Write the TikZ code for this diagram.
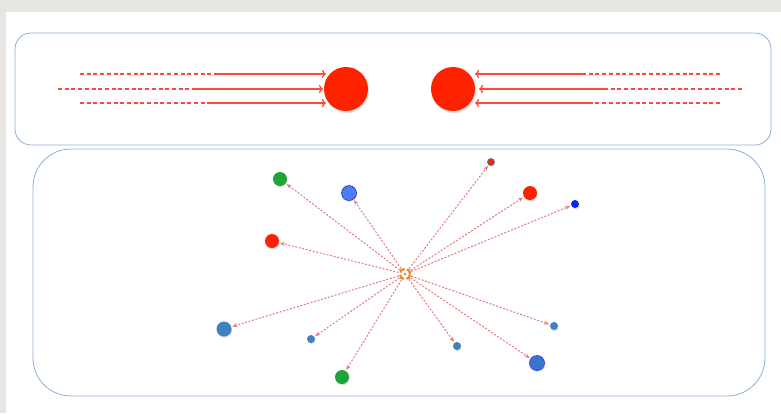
\documentclass[tikz,border=0pt]{standalone}
\usetikzlibrary{arrows.meta,shadows}
\definecolor{bgrey}{HTML}{E8E6E2}
\definecolor{boxline}{HTML}{8DB0D9}
\definecolor{fred}{HTML}{FF2200}
\definecolor{lred}{HTML}{FF4A3A}
\definecolor{lnk}{HTML}{DE7E7E}
\definecolor{fgreen}{HTML}{22A33A}
\definecolor{fblue}{HTML}{4C7EF2}
\definecolor{dblue}{HTML}{0A24F0}
\definecolor{sblue}{HTML}{3F82C4}
\definecolor{hub}{HTML}{F28A1E}
\tikzset{
  panel/.style={draw=boxline, line width=0.8pt, fill=white},
  bigball/.style={circle, fill=fred, minimum size=44pt, inner sep=0pt, drop shadow={shadow xshift=1pt, shadow yshift=-2pt, opacity=0.25}},
  ball/.style={circle, inner sep=0pt, minimum size=#1, drop shadow={shadow xshift=0.6pt, shadow yshift=-1.2pt, opacity=0.25}},
  inflow/.style={draw=lred, line width=1.3pt},
  inflowd/.style={draw=lred, line width=1.3pt, dash pattern=on 4pt off 2.7pt},
  intip/.style={-{To[length=4pt,width=8pt,line width=1.3pt]}},
  link/.style={draw=lnk, line width=1pt, dash pattern=on 2pt off 1.6pt, -{Stealth[length=5pt,width=4pt]}, shorten >=1pt},
  hubring/.style={draw=hub, line width=2.3pt, dash pattern=on 6pt off 2.6pt}
}
\begin{document}
\begin{tikzpicture}[x=1pt,y=-1pt]
\useasboundingbox (0,0) rectangle (781,413);
\fill[bgrey] (0,0) rectangle (781,413);
\fill[white] (6,12) rectangle (781,413);
% panels
\path[panel, rounded corners=16pt] (15,33) rectangle (771,145);
\path[panel, rounded corners=38pt] (33,149) rectangle (765,396);
% top balls
\node[bigball] (L) at (346,89) {};
\node[bigball] (R) at (453,89) {};
% left arrows
\coordinate (la1) at (80,74);  \coordinate (lb1) at (217,74);  \coordinate (lt1) at (326,74);
\coordinate (la2) at (58,89);  \coordinate (lb2) at (195,89);  \coordinate (lt2) at (323,89);
\coordinate (la3) at (80,103); \coordinate (lb3) at (208,103); \coordinate (lt3) at (326,103);
\draw[inflowd] (la1) -- (lb1); \draw[inflow,intip] (lb1) -- (lt1);
\draw[inflowd] (la2) -- (lb2); \draw[inflow,intip] (lb2) -- (lt2);
\draw[inflowd] (la3) -- (lb3); \draw[inflow,intip] (lb3) -- (lt3);
% right arrows
\coordinate (ra1) at (720,74);  \coordinate (rb1) at (583,74);  \coordinate (rt1) at (475,74);
\coordinate (ra2) at (742,89);  \coordinate (rb2) at (605,89);  \coordinate (rt2) at (479,89);
\coordinate (ra3) at (720,103); \coordinate (rb3) at (590,103); \coordinate (rt3) at (475,103);
\draw[inflowd] (ra1) -- (rb1); \draw[inflow,intip] (rb1) -- (rt1);
\draw[inflowd] (ra2) -- (rb2); \draw[inflow,intip] (rb2) -- (rt2);
\draw[inflowd] (ra3) -- (rb3); \draw[inflow,intip] (rb3) -- (rt3);
% hub
\node[circle, minimum size=13pt, inner sep=0pt] (h) at (405,274) {};
% satellites
\node[ball=14pt, fill=fgreen] (g1) at (280,179) {};
\node[ball=15pt, fill=fblue, draw=blue!70!black, line width=0.4pt] (b1) at (349,193) {};
\node[ball=7pt, fill=fred, draw=sblue, line width=0.8pt] (r1) at (491,162) {};
\node[ball=14pt, fill=fred] (r2) at (530,193) {};
\node[ball=8pt, fill=dblue] (b2) at (575,204) {};
\node[ball=14pt, fill=fred] (r3) at (272,241) {};
\node[ball=15pt, fill=sblue] (b3) at (224,329) {};
\node[ball=8pt, fill=sblue] (b4) at (311,339) {};
\node[ball=14pt, fill=fgreen] (g2) at (342,377) {};
\node[ball=8pt, fill=sblue] (b5) at (457,346) {};
\node[ball=8pt, fill=sblue] (b6) at (554,326) {};
\node[ball=15pt, fill=sblue!90!blue, draw=blue!75!white, line width=0.8pt] (b7) at (537,363) {};
% links
\foreach \t in {g1,b1,r1,r2,b2,r3,b3,b4,g2,b5,b6,b7}
  \draw[link] (h) -- (\t);
\fill[white] (h.center) circle (5.3pt);
\draw[hubring] (h.center) circle (5.3pt);
\fill[lnk] (h.center) circle (1.5pt);
\end{tikzpicture}
\end{document}
